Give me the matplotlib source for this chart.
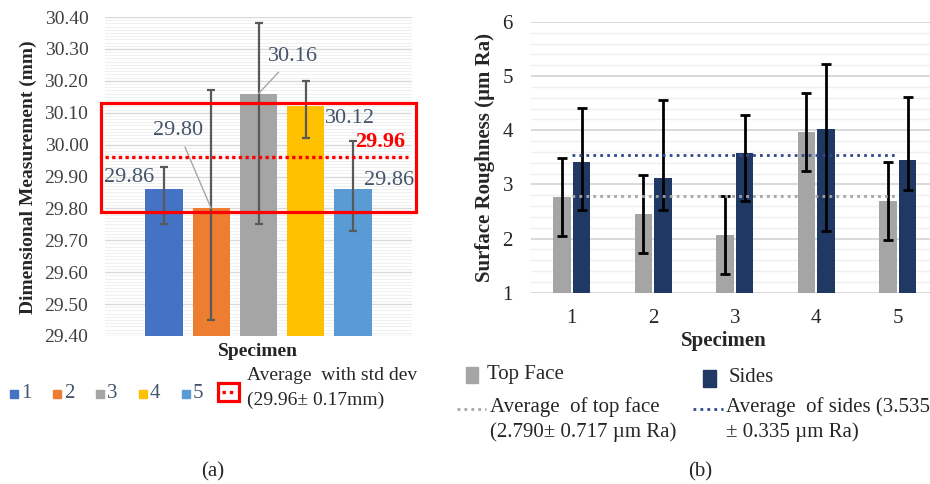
#!/usr/bin/env python3

import matplotlib
matplotlib.use("Agg")
import matplotlib.pyplot as plt
from matplotlib.patches import Rectangle
from matplotlib.lines import Line2D
from matplotlib.ticker import MultipleLocator, FormatStrFormatter
import matplotlib.transforms as mtransforms

plt.rcParams['font.family'] = ['Liberation Serif', 'DejaVu Serif']

# (a) dimensional measurement
specimens = ['1', '2', '3', '4', '5']
dim_mean = [29.86, 29.80, 30.16, 30.12, 29.86]
dim_err_low = [0.11, 0.35, 0.41, 0.10, 0.13]
dim_err_high = [0.07, 0.37, 0.22, 0.08, 0.15]
dim_avg = 29.96
dim_std = 0.17
dim_colors = ['#4472C4', '#ED7D31', '#A5A5A5', '#FFC000', '#5B9BD5']
# label offsets (dx, dy) from bar top, and whether a leader line is drawn
dim_label_offset = [(-0.74, 0.038), (-0.70, 0.243), (0.73, 0.115), (0.93, -0.037), (0.75, 0.026)]
dim_leader = [False, True, True, False, False]

# (b) surface roughness
top_face = [2.77, 2.45, 2.07, 3.97, 2.69]
top_face_err = [0.717, 0.717, 0.717, 0.717, 0.717]
sides = [3.41, 3.11, 3.58, 4.02, 3.45]
sides_err_low = [0.89, 0.59, 0.88, 1.88, 0.56]
sides_err_high = [1.00, 1.45, 0.70, 1.21, 1.16]
top_face_avg = 2.790
sides_avg = 3.535

W, H = 930, 484
LABEL_C = '#44546A'
TEXT_C = '#262626'


def fx(x):
    return x / W


def fy(y):
    return 1 - y / H


fig = plt.figure(figsize=(9.3, 4.84), dpi=100)

# ---------------- (a) ----------------
ax1 = fig.add_axes([fx(105), fy(336), 307 / W, 319 / H])
xpos = [1, 2, 3, 4, 5]
ax1.bar(xpos, [m - 29.4 for m in dim_mean], bottom=29.4, width=0.79,
        color=dim_colors, zorder=2)
ax1.errorbar(xpos, dim_mean, yerr=[dim_err_low, dim_err_high], fmt='none',
             ecolor='#595959', elinewidth=1.6, capsize=3, capthick=1.6, zorder=3)
ax1.set_xlim(3 - 3.245, 3 + 3.245)
ax1.set_ylim(29.4, 30.4)
ax1.yaxis.set_major_locator(MultipleLocator(0.1))
ax1.yaxis.set_minor_locator(MultipleLocator(0.01))
ax1.yaxis.set_major_formatter(FormatStrFormatter('%.2f'))
ax1.grid(which='major', axis='y', color='#D9D9D9', lw=1.0)
ax1.grid(which='minor', axis='y', color='#F0F0F0', lw=0.7)
ax1.set_axisbelow(True)
ax1.set_xticks([])
ax1.tick_params(axis='y', which='both', length=0, labelsize=14, pad=12, labelcolor='#404040')
for s in ax1.spines.values():
    s.set_visible(False)

for x, m, (dx, dy), lead in zip(xpos, dim_mean, dim_label_offset, dim_leader):
    if lead:
        ax1.annotate(f'{m:.2f}', xy=(x, m), xytext=(x + dx, m + dy),
                     ha='center', va='center', fontsize=16, color=LABEL_C,
                     arrowprops=dict(arrowstyle='-', color='#A6A6A6', lw=1,
                                     shrinkA=3, shrinkB=0), zorder=4)
    else:
        ax1.text(x + dx, m + dy, f'{m:.2f}', ha='center', va='center',
                 fontsize=16, color=LABEL_C, zorder=4)

ax1.axhline(dim_avg, xmin=0, xmax=0.987, color='#FF0000', lw=2.4,
            linestyle=(0, (1, 1)), zorder=4)
blend = mtransforms.blended_transform_factory(ax1.transAxes, ax1.transData)
ax1.add_patch(Rectangle((-0.013, dim_avg - dim_std), 1.026, 2 * dim_std,
                        transform=blend, fill=False, edgecolor='#FF0000',
                        lw=2.3, clip_on=False, zorder=5))
ax1.text(5.57, dim_avg + 0.048, f'{dim_avg:.2f}', ha='center', va='center',
         fontsize=16, color='#FF0000', fontweight='bold', zorder=6)

fig.text(fx(28), fy(177), 'Dimensional Measurement (mm)', rotation=90,
         ha='center', va='center', fontsize=14, fontweight='bold', color=TEXT_C)
fig.text(fx(258), fy(351), 'Specimen', ha='center', va='center',
         fontsize=14, fontweight='bold', color=TEXT_C)

# legend (a)
for i, (lab, c) in enumerate(zip(specimens, dim_colors)):
    x0 = 10 + i * 43
    fig.add_artist(Rectangle((fx(x0), fy(398)), 8 / W, 8 / H,
                             transform=fig.transFigure, color=c))
    fig.text(fx(x0 + 11), fy(393), lab, ha='left', va='center',
             fontsize=15, color=LABEL_C)
fig.add_artist(Rectangle((fx(218), fy(401)), 21 / W, 18 / H,
                         transform=fig.transFigure, facecolor='white',
                         edgecolor='#FF0000', lw=2.3))
fig.add_artist(Line2D([fx(222), fx(236)], [fy(392), fy(392)],
                      transform=fig.transFigure, color='#FF0000', lw=2.4,
                      linestyle=(0, (1, 1.2))))
fig.text(fx(247), fy(375), 'Average  with std dev', ha='left', va='center',
         fontsize=14, color=TEXT_C)
fig.text(fx(247), fy(400), f'({dim_avg:.2f}\u00b1 {dim_std:.2f}mm)', ha='left',
         va='center', fontsize=14, color=TEXT_C)

# ---------------- (b) ----------------
ax2 = fig.add_axes([fx(531), fy(292.7), 407.5 / W, 270.7 / H])
bw = 0.22
xl = [x - 0.12 for x in xpos]
xr = [x + 0.12 for x in xpos]
ax2.bar(xl, [v - 1 for v in top_face], bottom=1, width=bw, color='#A5A5A5', zorder=2)
ax2.bar(xr, [v - 1 for v in sides], bottom=1, width=bw, color='#203864', zorder=2)
ax2.errorbar(xl, top_face, yerr=top_face_err, fmt='none', ecolor='black',
             elinewidth=2.0, capsize=3.5, capthick=2.0, zorder=3)
ax2.errorbar(xr, sides, yerr=[sides_err_low, sides_err_high], fmt='none',
             ecolor='black', elinewidth=2.0, capsize=3.5, capthick=2.0, zorder=3)
ax2.hlines(top_face_avg, xpos[0], xpos[-1], color='#A5A5A5', lw=2.0,
           linestyles=[(0, (1, 1.5))], zorder=4)
ax2.hlines(sides_avg, xpos[0], xpos[-1], color='#2F4A8A', lw=2.0,
           linestyles=[(0, (1, 1.5))], zorder=4)
ax2.set_xlim(0.5, 5.5)
ax2.set_ylim(1, 6)
ax2.yaxis.set_major_locator(MultipleLocator(1))
ax2.yaxis.set_minor_locator(MultipleLocator(0.2))
ax2.set_xticks(xpos)
ax2.set_xticklabels(specimens)
ax2.grid(which='major', axis='y', color='#D9D9D9', lw=1.4)
ax2.grid(which='minor', axis='y', color='#EFEFEF', lw=1.0)
ax2.set_axisbelow(True)
ax2.tick_params(axis='both', which='both', length=0, labelsize=15, labelcolor=TEXT_C)
ax2.tick_params(axis='y', pad=13)
ax2.tick_params(axis='x', pad=12)
for s in ax2.spines.values():
    s.set_visible(False)

fig.text(fx(485), fy(157), 'Surface Roughness (\u00b5m Ra)', rotation=90,
         ha='center', va='center', fontsize=15, fontweight='bold', color=TEXT_C)
fig.text(fx(724), fy(341), 'Specimen', ha='center', va='center',
         fontsize=15, fontweight='bold', color=TEXT_C)

# legend (b)
fig.add_artist(Rectangle((fx(466), fy(383)), 12 / W, 16 / H,
                         transform=fig.transFigure, color='#A5A5A5'))
fig.text(fx(487), fy(375), 'Top Face', ha='left', va='center', fontsize=15, color=TEXT_C)
fig.add_artist(Rectangle((fx(703), fy(387)), 13 / W, 17 / H,
                         transform=fig.transFigure, color='#203864'))
fig.text(fx(729), fy(378), 'Sides', ha='left', va='center', fontsize=15, color=TEXT_C)
fig.add_artist(Line2D([fx(457), fx(486)], [fy(409), fy(409)],
                      transform=fig.transFigure, color='#A5A5A5', lw=2.0,
                      linestyle=(0, (1, 1.5))))
fig.text(fx(490), fy(407), 'Average  of top face', ha='left', va='center',
         fontsize=15, color=TEXT_C)
fig.text(fx(490), fy(432), f'({top_face_avg:.3f}\u00b1 0.717 \u00b5m Ra)', ha='left',
         va='center', fontsize=15, color=TEXT_C)
fig.add_artist(Line2D([fx(693), fx(723)], [fy(409), fy(409)],
                      transform=fig.transFigure, color='#2F4A8A', lw=2.0,
                      linestyle=(0, (1, 1.5))))
fig.text(fx(726), fy(407), f'Average  of sides ({sides_avg:.3f}', ha='left', va='center',
         fontsize=15, color=TEXT_C)
fig.text(fx(726), fy(432), '\u00b1 0.335 \u00b5m Ra)', ha='left', va='center',
         fontsize=15, color=TEXT_C)

fig.text(fx(213), fy(472), '(a)', ha='center', va='center', fontsize=15, color=TEXT_C)
fig.text(fx(700), fy(472), '(b)', ha='center', va='center', fontsize=15, color=TEXT_C)

plt.savefig('out.png', dpi=100)
